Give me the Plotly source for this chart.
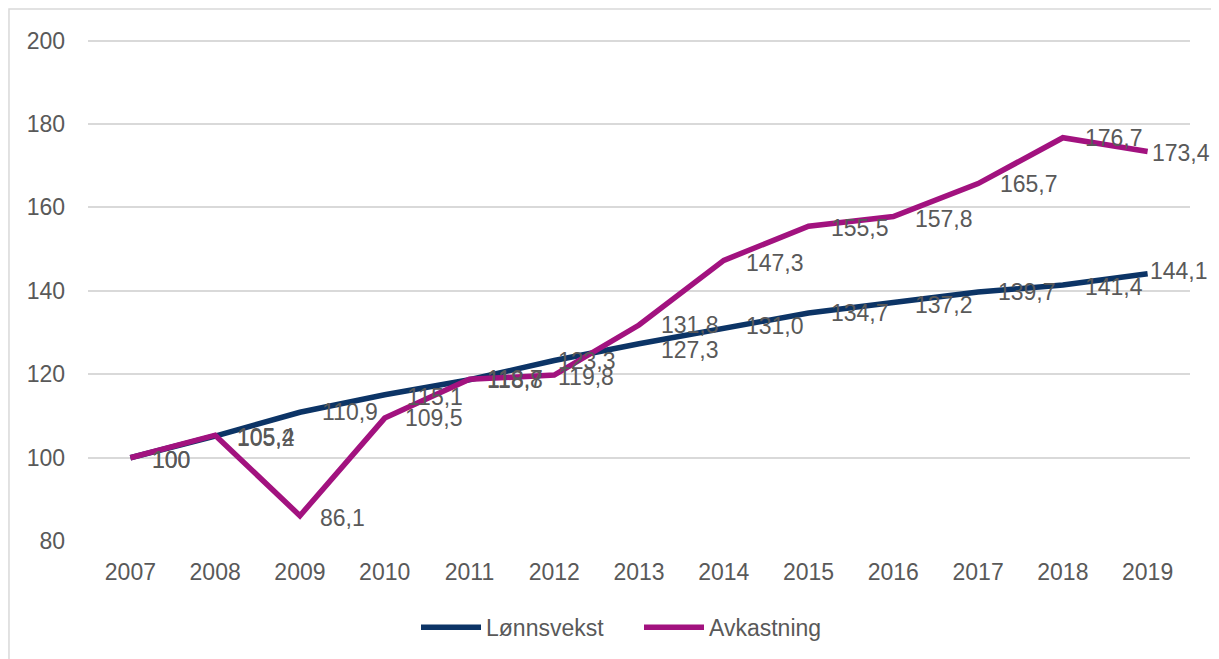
import plotly.graph_objects as go

years = ["2007", "2008", "2009", "2010", "2011", "2012", "2013",
         "2014", "2015", "2016", "2017", "2018", "2019"]
lonnsvekst = [100, 105.2, 110.9, 115.1, 118.7, 123.3, 127.3,
              131.0, 134.7, 137.2, 139.7, 141.4, 144.1]
avkastning = [100, 105.4, 86.1, 109.5, 118.8, 119.8, 131.8,
              147.3, 155.5, 157.8, 165.7, 176.7, 173.4]
y_ticks = [80, 100, 120, 140, 160, 180, 200]

# label placement (pixel offsets from each point)
lonn_xshift = [20, 20, 20, 20, 16, 2, 20, 20, 20, 20, 18, 20, 0]
lonn_yshift = [-2, -2, 0, -2, 1, 0, -6, 2, 0, -2, 0, -2, 3]
avk_xshift = [20, 20, 18, 18, 16, 2, 20, 20, 20, 20, 20, 20, 2]
avk_yshift = [-2, -2, -2, 0, -1, -2, 0, -3, -2, -2, 0, 0, -2]

BLUE = "#0C3466"
MAGENTA = "#A2127F"
GREY_TXT = "#595959"
FONT = "Liberation Sans, Arial, sans-serif"

fig = go.Figure()
fig.add_trace(go.Scatter(x=years, y=lonnsvekst, mode="lines", name="Lønnsvekst",
                         line=dict(color=BLUE, width=5.5)))
fig.add_trace(go.Scatter(x=years, y=avkastning, mode="lines", name="Avkastning",
                         line=dict(color=MAGENTA, width=5.5)))


def fmt(v):
    if v == 100:
        return "100"
    return f"{v:.1f}".replace(".", ",")


anns = []
for series, xs_, ys_ in [(lonnsvekst, lonn_xshift, lonn_yshift),
                         (avkastning, avk_xshift, avk_yshift)]:
    for i, (v, dx, dy) in enumerate(zip(series, xs_, ys_)):
        anns.append(dict(x=i, y=v, xref="x", yref="y", text=fmt(v), showarrow=False,
                         xanchor="left", yanchor="middle", xshift=dx, yshift=dy,
                         font=dict(family=FONT, size=23, color=GREY_TXT)))

fig.update_layout(
    width=1211, height=651,
    margin=dict(l=80, r=29, t=30, b=117, autoexpand=False),
    paper_bgcolor="white", plot_bgcolor="white",
    font=dict(family=FONT, size=23, color=GREY_TXT),
    showlegend=True,
    legend=dict(orientation="h", x=0.5, xanchor="center", y=-0.169, yanchor="middle",
                font=dict(family=FONT, size=23, color=GREY_TXT), itemwidth=60,
                entrywidth=148, entrywidthmode="pixels",
                bgcolor="rgba(0,0,0,0)"),
    annotations=anns,
    shapes=[dict(type="rect", xref="paper", yref="paper",
                 x0=-0.0717, x1=1.021, y0=-0.235, y1=1.0575,
                 line=dict(color="#D9D9D9", width=1.5), fillcolor="rgba(0,0,0,0)",
                 layer="below")],
)
fig.update_xaxes(type="category", range=[-0.5, 12.5], showgrid=False, showline=False,
                 ticks="", ticklabelstandoff=14, zeroline=False, automargin=False,
                 tickfont=dict(family=FONT, size=23, color=GREY_TXT))
fig.update_yaxes(range=[79.8, 200.6], tickvals=y_ticks, showgrid=True, gridcolor="#D9D9D9",
                 gridwidth=1.5, zeroline=False, showline=False, ticks="",
                 ticklabelstandoff=22, automargin=False,
                 tickfont=dict(family=FONT, size=23, color=GREY_TXT))

fig.write_html("out.html")
